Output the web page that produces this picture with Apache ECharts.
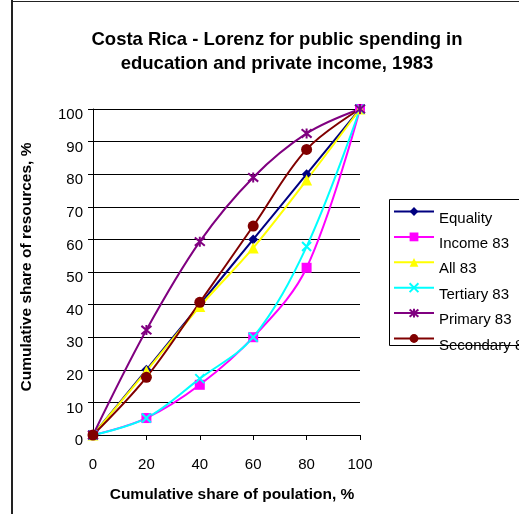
<!DOCTYPE html>
<html>
<head>
<meta charset="utf-8">
<script src="https://cdn.jsdelivr.net/npm/echarts@6/dist/echarts.min.js"></script>
<style>
  html, body { margin: 0; padding: 0; background: #fff; }
  #chart { width: 519px; height: 514px; }
</style>
</head>
<body>
<div id="chart"></div>
<script>
// Cumulative share of population (%)
const populationShare = [0, 20, 40, 60, 80, 100];

// Cumulative share of resources (%) for each distribution
const equality  = [0, 20, 40, 60, 80, 100];
const income83  = [0, 5.2, 15.4, 30, 51.3, 100];
const all83     = [0, 19.6, 39.4, 57.4, 78.2, 100];
const tertiary83 = [0, 5.2, 17.3, 30, 57.8, 100];
const primary83 = [0, 32.2, 59.3, 79.0, 92.5, 100];
const secondary83 = [0, 17.7, 40.7, 64.1, 87.6, 100];

const xTicks = [0, 20, 40, 60, 80, 100];
const yTicks = [0, 10, 20, 30, 40, 50, 60, 70, 80, 90, 100];

const FONT = '"Liberation Sans", Arial, sans-serif';

const pair = vals => vals.map((v, i) => [populationShare[i], v]);

const crossPath = 'path://M0,0L10,10M10,0L0,10';
const starPath = 'path://M0,0L10,10M10,0L0,10M5,-1L5,11';

function lineSeries(name, vals, color, symbol, size, extra) {
  const s = {
    name: name,
    type: 'line',
    data: pair(vals),
    smooth: 0.35,
    symbol: symbol,
    symbolSize: size,
    showAllSymbol: true,
    lineStyle: { color: color, width: 2 },
    itemStyle: { color: color, borderColor: color, borderWidth: 0 },
    emphasis: { disabled: true },
    animation: false
  };
  return Object.assign(s, extra || {});
}

const series = [
  lineSeries('Equality', equality, '#000080', 'diamond', 10),
  lineSeries('Income 83', income83, '#FF00FF', 'rect', 10),
  lineSeries('All 83', all83, '#FFFF00', 'triangle', 11),
  lineSeries('Tertiary 83', tertiary83, '#00FFFF', crossPath, 9,
    { itemStyle: { color: 'none', borderColor: '#00FFFF', borderWidth: 2 } }),
  lineSeries('Primary 83', primary83, '#800080', starPath, 10,
    { itemStyle: { color: 'none', borderColor: '#800080', borderWidth: 2 } }),
  lineSeries('Secondary 83', secondary83, '#800000', 'circle', 11,
    { symbolSize: (v, p) => (p.dataIndex === secondary83.length - 1 ? 0 : 11) })
];

const chart = echarts.init(document.getElementById('chart'), null, { renderer: 'canvas' });

chart.setOption({
  animation: false,
  backgroundColor: '#ffffff',
  textStyle: { fontFamily: FONT },
  title: {
    text: 'Costa Rica - Lorenz for public spending in\neducation and private income, 1983',
    left: 272,
    top: 23,
    textAlign: 'center',
    textStyle: {
      fontFamily: FONT, fontSize: 18.5, fontWeight: 'bold', color: '#000', lineHeight: 24
    }
  },
  grid: { left: 93, top: 109, width: 267, height: 326, containLabel: false },
  xAxis: {
    type: 'value',
    min: xTicks[0],
    max: xTicks[xTicks.length - 1],
    interval: xTicks[1] - xTicks[0],
    name: 'Cumulative share of poulation, %',
    nameLocation: 'middle',
    nameGap: 52,
    nameTextStyle: { fontFamily: FONT, fontSize: 15.5, fontWeight: 'bold', color: '#000', padding: [0, 0, 0, 11] },
    axisLine: { show: true, onZero: false, lineStyle: { color: '#000', width: 1 } },
    axisTick: { show: true, length: 5, lineStyle: { color: '#000' } },
    axisLabel: { fontFamily: FONT, fontSize: 15, color: '#000', margin: 22 },
    splitLine: { show: false }
  },
  yAxis: {
    type: 'value',
    min: yTicks[0],
    max: yTicks[yTicks.length - 1],
    interval: yTicks[1] - yTicks[0],
    axisLine: { show: true, onZero: false, lineStyle: { color: '#000', width: 1 } },
    axisTick: { show: true, length: 5, lineStyle: { color: '#000' } },
    axisLabel: { fontFamily: FONT, fontSize: 15, color: '#000', margin: 10, verticalAlign: 'top', lineHeight: 12 },
    splitLine: { show: true, lineStyle: { color: '#000', width: 1 } }
  },
  legend: {
    orient: 'vertical',
    left: 393,
    top: 197,
    padding: 0,
    itemWidth: 40,
    itemHeight: 11,
    itemGap: -3.6,
    formatter: name => '\n' + name,
    textStyle: { fontFamily: FONT, fontSize: 15, color: '#000', lineHeight: 14 },
    selectedMode: false,
    data: series.map(s => s.name)
  },
  graphic: [
    // chart frame
    { type: 'line', shape: { x1: 12, y1: 0, x2: 12, y2: 514 }, style: { stroke: '#222', lineWidth: 2 }, silent: true },
    { type: 'line', shape: { x1: 11, y1: 1.5, x2: 519, y2: 1.5 }, style: { stroke: '#222', lineWidth: 1 }, silent: true },
    // legend box
    { type: 'rect', z: -1, shape: { x: 389.5, y: 199.5, width: 200, height: 146 },
      style: { fill: '#fff', stroke: '#000', lineWidth: 1 }, silent: true },
    // vertical axis title
    { type: 'text', x: 27, y: 267, rotation: Math.PI / 2, silent: true,
      style: { text: 'Cumulative share of resources, %', fontFamily: FONT, fontSize: 15.5, fontWeight: 'bold',
               fill: '#000', align: 'center', verticalAlign: 'middle' } }
  ],
  series: series
});
</script>
</body>
</html>
